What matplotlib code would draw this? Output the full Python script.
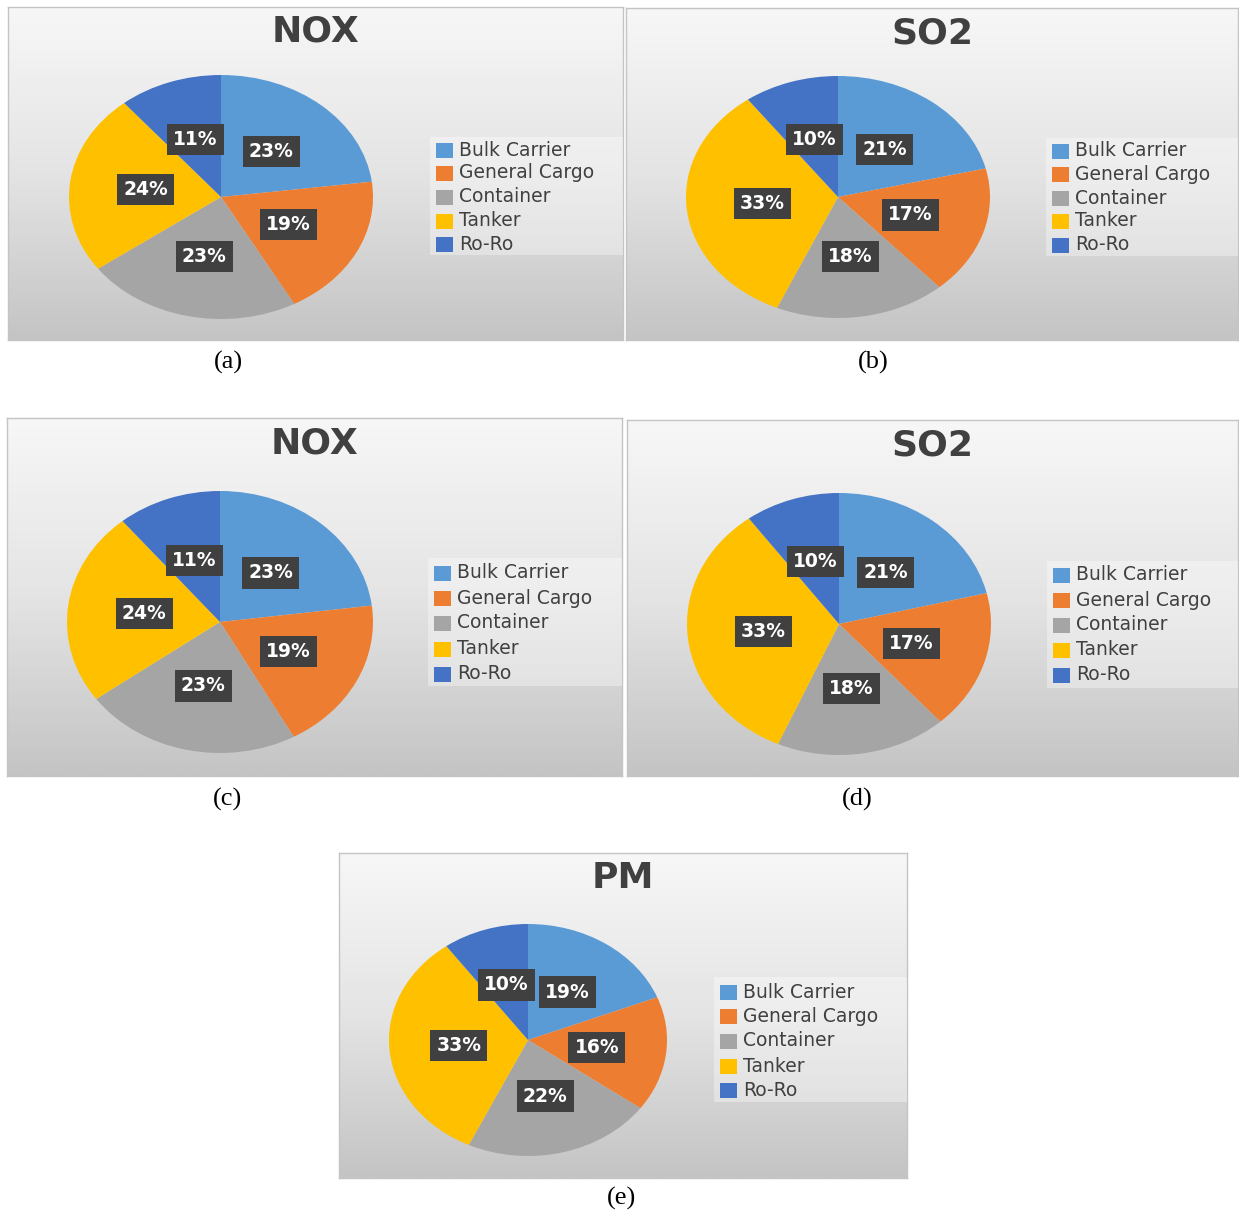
import numpy as np
import matplotlib
matplotlib.use("Agg")
import matplotlib.pyplot as plt
from matplotlib.colors import LinearSegmentedColormap
from matplotlib.patches import Rectangle

W, H = 1239, 1214

categories = ["Bulk Carrier", "General Cargo", "Container", "Tanker", "Ro-Ro"]
colors = ["#5B9BD5", "#ED7D31", "#A5A5A5", "#FFC000", "#4472C4"]

nox_values = [23, 19, 23, 24, 11]
so2_values = [21, 17, 18, 33, 10]
pm_values = [19, 16, 22, 33, 10]

titles = ["NOX", "SO2", "NOX", "SO2", "PM"]
captions = ["(a)", "(b)", "(c)", "(d)", "(e)"]
panel_values = [nox_values, so2_values, nox_values, so2_values, pm_values]

# layout (pixels, y from top): panel box, pie ellipse (cx, cy, rx, ry), legend box, entry ys, caption pos
panels = [
    dict(box=(8, 7, 615, 333), pie=(221, 197, 152, 122), leg=(430, 137, 193, 118),
         ys=[150, 173, 197, 221, 244], cap=(228, 362)),
    dict(box=(626, 8, 612, 332), pie=(838, 197, 152, 121), leg=(1046, 138, 192, 118),
         ys=[151, 174, 198, 221, 245], cap=(873, 362)),
    dict(box=(7, 418, 615, 358), pie=(220, 622, 153, 131), leg=(428, 558, 194, 128),
         ys=[573, 598, 623, 649, 674], cap=(228, 799)),
    dict(box=(627, 420, 611, 356), pie=(839, 624, 152, 131), leg=(1047, 561, 191, 127),
         ys=[575, 600, 625, 650, 675], cap=(857, 799)),
    dict(box=(339, 853, 568, 325), pie=(528, 1040, 139, 116), leg=(714, 977, 193, 125),
         ys=[992, 1016, 1041, 1066, 1090], cap=(621, 1198)),
]

fig = plt.figure(figsize=(W / 100, H / 100), dpi=100)
fig.patch.set_facecolor("white")


def rect(x, y, w, h):
    return [x / W, 1 - (y + h) / H, w / W, h / H]


def fx(x):
    return x / W


def fy(y):
    return 1 - y / H


cmap = LinearSegmentedColormap.from_list("bg", ["#f7f7f7", "#e4e4e4", "#c4c4c4"])
grad = np.linspace(0, 1, 256).reshape(-1, 1)

for p, title, cap, vals in zip(panels, titles, captions, panel_values):
    x, y, w, h = p["box"]
    bg = fig.add_axes(rect(x, y, w, h))
    bg.imshow(grad, cmap=cmap, aspect="auto", extent=(0, 1, 0, 1), origin="upper")
    bg.set_xlim(0, 1)
    bg.set_ylim(0, 1)
    bg.set_xticks([])
    bg.set_yticks([])
    for s in bg.spines.values():
        s.set_color("#c4c4c4")
        s.set_linewidth(1.0)

    # legend background
    lx, ly, lw, lh = p["leg"]
    fig.patches.append(Rectangle((fx(lx), fy(ly + lh)), lw / W, lh / H,
                                 transform=fig.transFigure, facecolor="white",
                                 alpha=0.35, edgecolor="none", zorder=2))

    # title
    fig.text(fx(x + w / 2), fy(y + 25), title, ha="center", va="center",
             fontsize=26, fontweight="bold", color="#404040", family="DejaVu Sans")

    # pie
    cx, cy, rx, ry = p["pie"]
    ax = fig.add_axes(rect(cx - rx, cy - ry, 2 * rx, 2 * ry))
    total = sum(vals)
    wedges, texts, autotexts = ax.pie(
        vals, colors=colors, startangle=90, counterclock=False, radius=1,
        autopct=lambda pct, t=total: f"{round(pct * t / 100):d}%",
        pctdistance=0.5,
        wedgeprops=dict(linewidth=0),
        textprops=dict(color="white", fontsize=13.5, fontweight="bold", family="DejaVu Sans"))
    for t in autotexts:
        t.set_bbox(dict(boxstyle="square,pad=0.33", facecolor="#404040", edgecolor="none"))
    ax.set_xlim(-1, 1)
    ax.set_ylim(-1, 1)
    ax.set_aspect("auto")
    ax.axis("off")
    ax.patch.set_alpha(0)

    # legend entries
    sx = lx + 6
    for cat, col, ey in zip(categories, colors, p["ys"]):
        fig.patches.append(Rectangle((fx(sx), fy(ey + 8)), 17 / W, 15 / H,
                                     transform=fig.transFigure, facecolor=col,
                                     edgecolor="none", zorder=3))
        fig.text(fx(sx + 23), fy(ey), cat, ha="left", va="center", fontsize=13.5,
                 color="#404040", family="DejaVu Sans", zorder=4)

    # caption
    fig.text(fx(p["cap"][0]), fy(p["cap"][1]), cap, ha="center", va="center",
             fontsize=19, family="Liberation Serif", color="black")

fig.savefig("out.png", dpi=100, facecolor="white")
